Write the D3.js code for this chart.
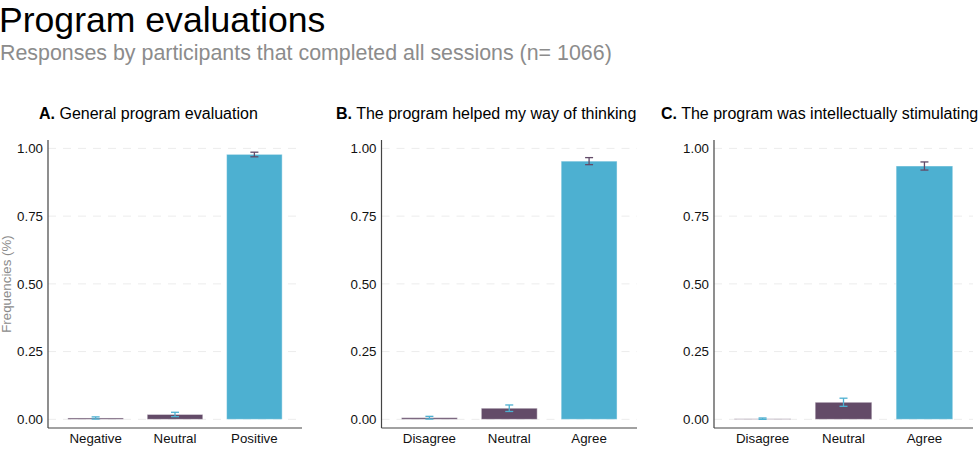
<!DOCTYPE html>
<html>
<head>
<meta charset="utf-8">
<script src="https://cdn.jsdelivr.net/npm/d3@7"></script>
<style>
  html, body { margin: 0; padding: 0; background: #fff; }
  svg { display: block; font-family: "Liberation Sans", Arial, Helvetica, sans-serif; }
</style>
</head>
<body>
<svg id="chart" width="978" height="450"></svg>
<script>
// Panel titles (bold letter + question text)
const panelLetters = ["A.", "B.", "C."];
const panelTitles = ["General program evaluation", "The program helped my way of thinking", "The program was intellectually stimulating"];

// Response categories per panel
const categoriesA = ["Negative", "Neutral", "Positive"];
const categoriesB = ["Disagree", "Neutral", "Agree"];
const categoriesC = ["Disagree", "Neutral", "Agree"];

// Share of respondents in each category
const valuesA = [0.005, 0.018, 0.978];
const valuesB = [0.006, 0.041, 0.953];
const valuesC = [0.002, 0.063, 0.935];

// 95% confidence bounds
const lowerA = [0.001, 0.010, 0.969];
const upperA = [0.009, 0.026, 0.986];
const lowerB = [0.001, 0.029, 0.940];
const upperB = [0.011, 0.053, 0.966];
const lowerC = [0.000, 0.048, 0.920];
const upperC = [0.005, 0.078, 0.950];

// Y axis ticks
const yTicks = [0, 0.25, 0.5, 0.75, 1.0];

const purple = "#634b68";
const cyan = "#4db0d1";

const svg = d3.select("#chart");

// Headline
svg.append("text").attr("x", -1).attr("y", 32)
  .attr("font-size", 35.6).attr("fill", "#000")
  .text("Program evaluations");
svg.append("text").attr("x", 0).attr("y", 60)
  .attr("font-size", 21.4).attr("fill", "#8c8c8c")
  .text("Responses by participants that completed all sessions (n= 1066)");

// Shared vertical scale
const y = d3.scaleLinear().domain([-0.032, 1.031]).range([428, 140]);

const panels = [
  { cats: categoriesA, vals: valuesA, lo: lowerA, hi: upperA, left: 48, right: 302, titleX: 39 },
  { cats: categoriesB, vals: valuesB, lo: lowerB, hi: upperB, left: 381.5, right: 637, titleX: 336 },
  { cats: categoriesC, vals: valuesC, lo: lowerC, hi: upperC, left: 714, right: 973, titleX: 661 }
];

panels.forEach((p, i) => {
  const g = svg.append("g");
  const step = (p.right - p.left) / 3.2;
  const x = d3.scaleBand().domain(p.cats)
    .range([p.left + 0.6 * step - step / 2, p.right - 0.6 * step + step / 2])
    .paddingInner(0.3).paddingOuter(0.15);

  // Title
  const t = g.append("text").attr("x", p.titleX).attr("y", 119)
    .attr("font-size", 16).attr("fill", "#000");
  t.append("tspan").attr("font-weight", "bold").text(panelLetters[i]);
  t.append("tspan").text(" " + panelTitles[i]);

  // Dashed gridlines
  g.selectAll(".grid").data(yTicks).join("line")
    .attr("x1", p.left).attr("x2", p.right)
    .attr("y1", d => y(d)).attr("y2", d => y(d))
    .attr("stroke", "#ececec").attr("stroke-width", 1)
    .attr("stroke-dasharray", "8,7");

  // Bars
  const bw = step * 0.7;
  g.selectAll(".bar").data(p.cats).join("rect")
    .attr("x", d => x(d) + x.bandwidth() / 2 - bw / 2)
    .attr("width", bw)
    .attr("y", (d, j) => y(p.vals[j]))
    .attr("height", (d, j) => Math.max(y(0) - y(p.vals[j]), 0.5))
    .attr("fill", (d, j) => j === 2 ? cyan : purple)
    .attr("stroke", "#ffffff").attr("stroke-opacity", 0.45).attr("stroke-width", 1);

  // Error bars
  const cap = 4;
  p.cats.forEach((c, j) => {
    const cx = x(c) + x.bandwidth() / 2;
    const col = j === 2 ? purple : cyan;
    const eg = g.append("g").attr("stroke", col).attr("stroke-width", 1.3);
    eg.append("line").attr("x1", cx).attr("x2", cx).attr("y1", y(p.lo[j])).attr("y2", y(p.hi[j]));
    eg.append("line").attr("x1", cx - cap).attr("x2", cx + cap).attr("y1", y(p.lo[j])).attr("y2", y(p.lo[j]));
    eg.append("line").attr("x1", cx - cap).attr("x2", cx + cap).attr("y1", y(p.hi[j])).attr("y2", y(p.hi[j]));
  });

  // Axes
  const yAxis = g.append("g").attr("transform", `translate(${p.left},0)`)
    .call(d3.axisLeft(y).tickValues(yTicks).tickFormat(d3.format(".2f")).tickSize(0).tickPadding(5));
  yAxis.select(".domain").attr("d", `M0,140V428`).attr("stroke", "#444").attr("stroke-width", 1.2);
  yAxis.selectAll("text").attr("font-size", 13.3).attr("fill", "#111").attr("font-family", null);

  const xAxis = g.append("g").attr("transform", `translate(0,428)`)
    .call(d3.axisBottom(x).tickSize(0).tickPadding(6));
  xAxis.select(".domain").attr("d", `M${p.left},0H${p.right}`).attr("stroke", "#444").attr("stroke-width", 1.2);
  xAxis.selectAll("text").attr("font-size", 13.3).attr("fill", "#111").attr("font-family", null);
});

// Y axis title
svg.append("text")
  .attr("transform", "translate(11,284) rotate(-90)")
  .attr("text-anchor", "middle")
  .attr("font-size", 13.3).attr("fill", "#8c8c8c")
  .text("Frequencies (%)");
</script>
</body>
</html>
